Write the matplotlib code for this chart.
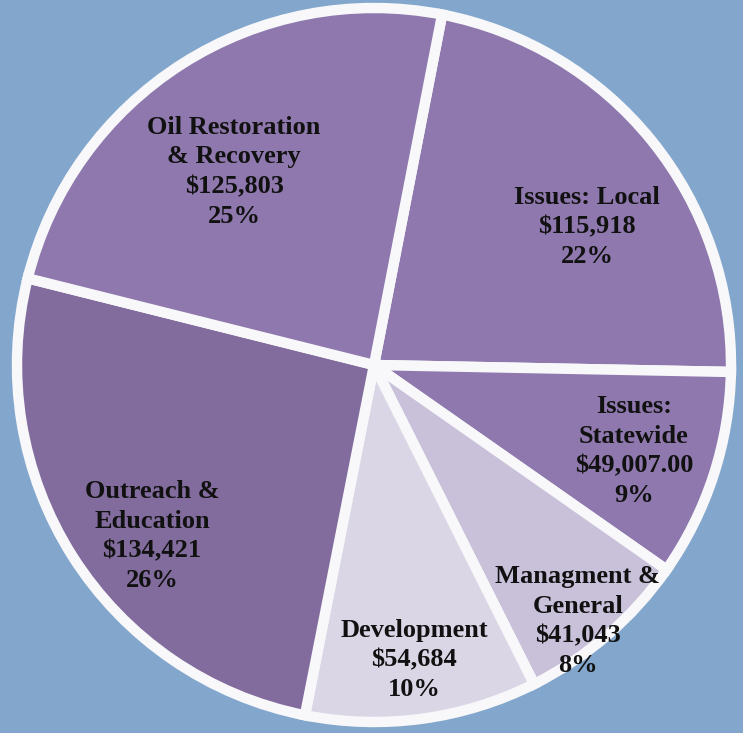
import matplotlib
matplotlib.use("Agg")
import matplotlib.pyplot as plt

# Data
categories = ["Issues: Local", "Issues:\nStatewide", "Managment &\nGeneral",
              "Development", "Outreach &\nEducation", "Oil Restoration\n& Recovery"]
values = [115918, 49007, 41043, 54684, 134421, 125803]
value_labels = ["$115,918", "$49,007.00", "$41,043", "$54,684", "$134,421", "$125,803"]
pct_labels = ["22%", "9%", "8%", "10%", "26%", "25%"]

colors = ["#8E78AD", "#8E78AD", "#C9C0DA", "#DBD6E6", "#826C9D", "#8E78AD"]
bg = "#83A7CC"

# label placement (data coords, pie radius = 1)
label_xy = [(0.597, 0.387), (0.728, -0.241), (0.571, -0.717),
            (0.112, -0.826), (-0.622, -0.479), (-0.392, 0.541)]

fig = plt.figure(figsize=(7.43, 7.33), dpi=100, facecolor=bg)
ax = fig.add_axes([0, 0, 1, 1])
ax.set_facecolor(bg)

wedges, _ = ax.pie(values, colors=colors, startangle=79, counterclock=False,
                   radius=1.0,
                   wedgeprops=dict(edgecolor="#F8F8FA", linewidth=7.5))

for (x, y), cat, v, p in zip(label_xy, categories, value_labels, pct_labels):
    ax.text(x, y, f"{cat}\n{v}\n{p}", ha="center", va="center",
            fontsize=19, fontweight="bold", family="Liberation Serif",
            color="#111111", linespacing=1.38)

ax.set_xlim(-1.0476, 1.0336)
ax.set_ylim(-1.0308, 1.0224)
ax.set_aspect("equal")
ax.axis("off")

fig.savefig("out.png", dpi=100, facecolor=bg)
